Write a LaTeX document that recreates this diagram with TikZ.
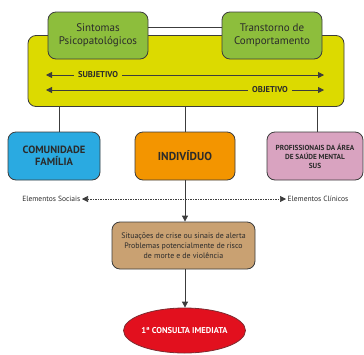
\documentclass[tikz,border=0pt]{standalone}
\usepackage{fontspec}
\setmainfont{PT Sans}
\usetikzlibrary{arrows.meta,shapes.geometric}
\definecolor{cYellow}{HTML}{DCDA00}
\definecolor{cGreen}{HTML}{8DBE3C}
\definecolor{cBlue}{HTML}{2AAAE1}
\definecolor{cOrange}{HTML}{F39500}
\definecolor{cPink}{HTML}{D9A3C0}
\definecolor{cBrown}{HTML}{C9A172}
\definecolor{cRed}{HTML}{E2101E}
\definecolor{cLine}{HTML}{3C3C3C}
\definecolor{cText}{HTML}{2B2B2B}
\tikzset{
  box/.style={draw=cLine, line width=0.8pt, rounded corners=8pt, align=center,
              text=cText, inner sep=0pt},
  conn/.style={draw=cLine, line width=0.8pt},
  tri/.tip={Triangle[length=6pt,width=6pt]},
  tip/.style={-tri},
  lbl/.style={fill=cYellow, inner xsep=4pt, inner ysep=1pt, text=cText,
              font=\fontsize{8.5}{9}\selectfont\bfseries},
}
\begin{document}
\begin{tikzpicture}[x=1pt,y=-1pt]
\useasboundingbox (0,0) rectangle (364,354);

% large yellow panel
\node[box, fill=cYellow, minimum width=316pt, minimum height=71pt] (yel) at (186,71) {};

% two green boxes on top
\node[box, fill=cGreen, minimum width=100pt, minimum height=47pt,
      font=\fontsize{11}{13}\selectfont] (g1) at (98,35.5)
      {Sintomas\\Psicopatológicos};
\node[box, fill=cGreen, minimum width=100pt, minimum height=47pt,
      font=\fontsize{11}{13}\selectfont] (g2) at (272,35.5)
      {Transtorno de\\Comportamento};
\draw[conn] ([yshift=8.5pt]g1.east) -- ([yshift=8.5pt]g2.west);

% subjective / objective axes
\coordinate (sa) at (46,75);
\coordinate (sb) at (324,75);
\coordinate (oa) at (46,90);
\coordinate (ob) at (324,90);
\draw[conn, tri-tri] (sa) -- (sb);
\draw[conn, tri-tri] (oa) -- (ob);
\node[lbl] (subj) at (98,75) {SUBJETIVO};
\node[lbl] (obj) at (270,90) {OBJETIVO};

% three middle boxes
\node[box, fill=cBlue, minimum width=92pt, minimum height=48pt,
      font=\fontsize{10.5}{12}\selectfont\bfseries] (com) at (54,156)
      {COMUNIDADE\\FAMÍLIA};
\node[box, fill=cOrange, minimum width=100pt, minimum height=48pt,
      font=\fontsize{11.5}{12}\selectfont\bfseries] (ind) at (185,156)
      {INDIVÍDUO};
\node[box, fill=cPink, minimum width=96pt, minimum height=48pt,
      font=\fontsize{7.3}{9}\selectfont\bfseries] (pro) at (315,156)
      {PROFISSIONAIS DA ÁREA\\DE SAÚDE MENTAL\\SUS};

\draw[conn] ([xshift=5pt]com.north) -- ([xshift=5pt]com.north |- yel.south);
\draw[conn] (ind.north) -- (ind.north |- yel.south);
\draw[conn] ([xshift=2pt]pro.north) -- ([xshift=2pt]pro.north |- yel.south);

% social / clinical axis
\coordinate (da) at (82,199);
\coordinate (db) at (286,199);
\draw[conn, line width=0.6pt, dash pattern=on 1.5pt off 1pt, tri-tri] (da) -- (db);
\node[anchor=east, inner sep=1.5pt, text=cText, font=\fontsize{7.5}{8}\selectfont] (soc) at (da) {Elementos Sociais};
\node[anchor=west, inner sep=1.5pt, text=cText, font=\fontsize{7.5}{8}\selectfont] (cli) at (db) {Elementos Clínicos};

% crisis box and outcome
\node[box, fill=cBrown, minimum width=143pt, minimum height=47pt,
      font=\fontsize{7.9}{10}\selectfont] (cri) at (183.5,245.5)
      {Situações de crise ou sinais de alerta\\Problemas potencialmente de risco\\de morte e de violência};
\node[ellipse, draw=cLine!60!cRed, line width=0.8pt, fill=cRed, minimum width=97pt,
      minimum height=45pt, inner sep=0pt, text=white,
      font=\fontsize{8.5}{9}\selectfont\bfseries] (con) at (184.5,330.5)
      {1ª CONSULTA IMEDIATA};

\draw[conn, tip] (ind.south) -- (ind.south |- cri.north);
\draw[conn, tip] (cri.south -| ind.south) -- (con.north -| ind.south);
\end{tikzpicture}
\end{document}
